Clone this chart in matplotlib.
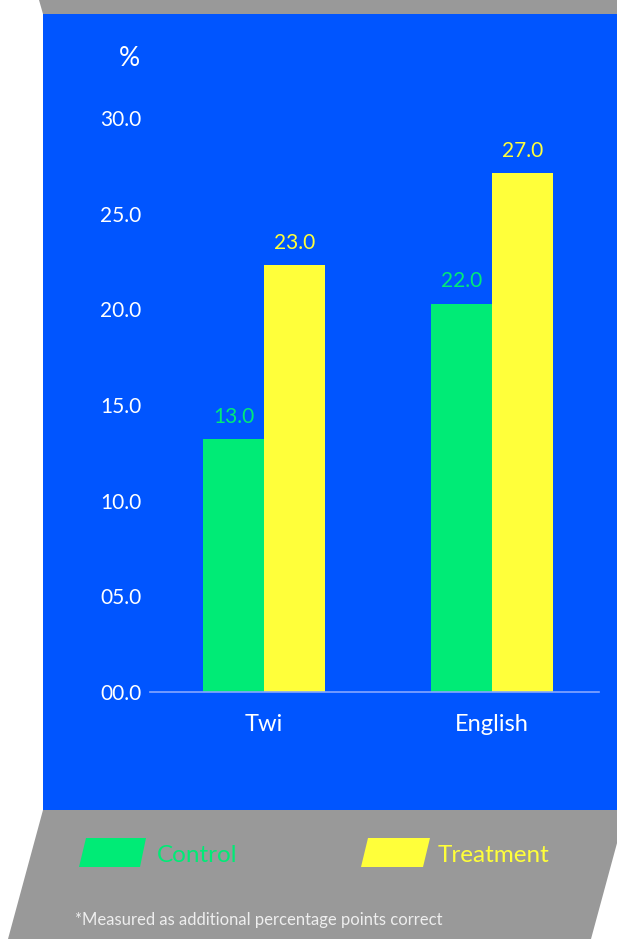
''' literacy gains chart, Twi vs English '''

import matplotlib
matplotlib.use('Agg')
import matplotlib.pyplot as plt
from matplotlib.patches import Polygon
import numpy as np

categories = ['Twi', 'English']
series_names = ['Control', 'Treatment']
# bar heights as drawn in the picture
control_heights = [13.2, 20.3]
treatment_heights = [22.3, 27.1]
# numbers printed above the bars
control_labels = ['13.0', '22.0']
treatment_labels = ['23.0', '27.0']
y_ticks = [0, 5, 10, 15, 20, 25, 30]
y_tick_labels = ['00.0', '05.0', '10.0', '15.0', '20.0', '25.0', '30.0']
footnote = '*Measured as additional percentage points correct'

BLUE = '#0055ff'
GREEN = '#00eb76'
YELLOW = '#ffff3a'
GRAY = '#999999'
AXIS = '#86a6ff'

W, H = 617, 939

plt.rcParams['font.family'] = ['Lato', 'DejaVu Sans']


def fx(x):
    return x / W


def fy(y):
    return 1 - y / H


def poly(fig, pts, color):
    '''parallelogram / rect given in pixel coords (y down)'''
    p = Polygon([(fx(x), fy(y)) for x, y in pts], closed=True,
                transform=fig.transFigure, facecolor=color, edgecolor='none',
                zorder=-5)
    fig.patches.append(p)


def main():
    fig = plt.figure(figsize=(W / 100, H / 100), dpi=100, facecolor='white')

    # backdrop shapes
    poly(fig, [(39, 0), (630, 0), (630, 14), (43, 14)], GRAY)
    poly(fig, [(43, 14), (630, 14), (630, 810), (43, 810)], BLUE)
    poly(fig, [(43, 810), (626, 810), (591, 939), (8, 939)], GRAY)

    ax = fig.add_axes([fx(150), fy(692), fx(599) - fx(150), (692 - 118) / H])
    ax.set_facecolor('none')

    x = np.arange(len(categories))
    width = 0.268
    ax.bar(x - width / 2, control_heights, width, color=GREEN, zorder=2)
    ax.bar(x + width / 2, treatment_heights, width, color=YELLOW, zorder=2)

    for xi, h, lab in zip(x, control_heights, control_labels):
        ax.text(xi - width / 2, h + 0.65, lab, ha='center', va='bottom',
                color=GREEN, fontsize=15)
    for xi, h, lab in zip(x, treatment_heights, treatment_labels):
        ax.text(xi + width / 2, h + 0.65, lab, ha='center', va='bottom',
                color=YELLOW, fontsize=15)

    ax.set_xlim(-0.5, 1.47)
    ax.set_ylim(0, 30)
    ax.set_yticks(y_ticks)
    ax.set_yticklabels(y_tick_labels)
    ax.set_xticks(x)
    ax.set_xticklabels(categories)
    ax.tick_params(axis='y', length=0, pad=6, labelcolor='white', labelsize=15)
    ax.tick_params(axis='x', length=0, pad=16, labelcolor='white', labelsize=17)

    for side in ['top', 'right', 'left']:
        ax.spines[side].set_visible(False)
    ax.spines['bottom'].set_color(AXIS)
    ax.spines['bottom'].set_linewidth(1.2)

    fig.text(fx(129), fy(58), '%', ha='center', va='center', color='white',
             fontsize=19)

    # legend, drawn by hand as slanted swatches
    poly(fig, [(86, 838), (146, 838), (140, 867), (79, 867)], GREEN)
    poly(fig, [(368, 838), (430, 838), (423, 867), (361, 867)], YELLOW)
    fig.text(fx(157), fy(855), series_names[0], ha='left', va='center',
             color=GREEN, fontsize=17.5)
    fig.text(fx(438), fy(855), series_names[1], ha='left', va='center',
             color=YELLOW, fontsize=17.5)

    fig.text(fx(75), fy(920), footnote, ha='left', va='center',
             color='#eeeeee', fontsize=12)

    fig.savefig('out.png', dpi=100, facecolor='white')


if __name__ == "__main__":
    main()
